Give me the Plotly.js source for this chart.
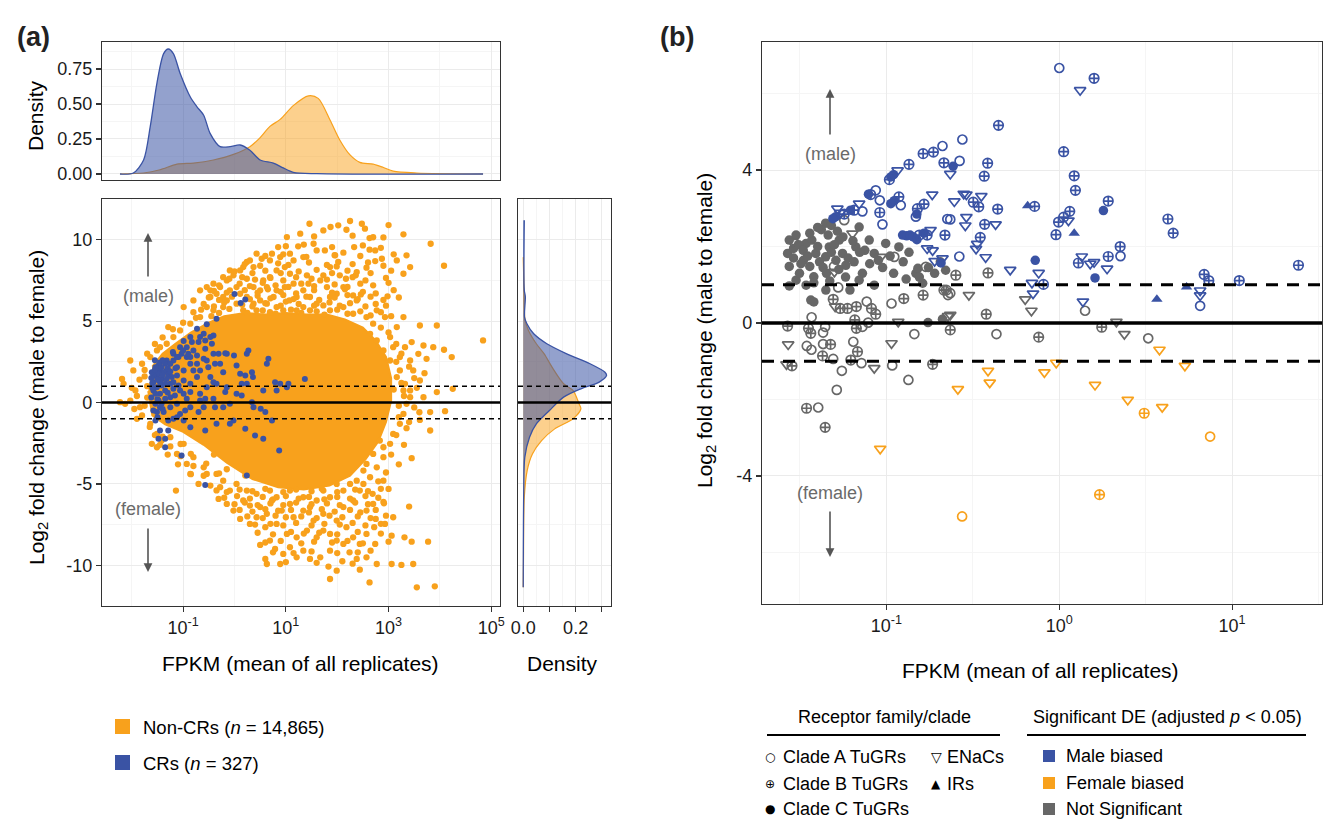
<!DOCTYPE html>
<html>
<head>
<meta charset="utf-8">
<script src="https://cdn.plot.ly/plotly-3.0.1.min.js"></script>
<style>html,body{margin:0;padding:0;background:#fff}#chart{width:1324px;height:822px}</style>
</head>
<body>
<div id="chart"></div>
<script>
// ---------------- DATA ----------------
// Panel (a): x = log10 FPKM, y = log2 fold change
const nonCRPoints = [
[1.46,10.98],[1.73,10.57],[1.87,10.78],[2.02,10.88],[2.18,10.61],[2.25,11.15],[2.48,10.98],[2.54,10.68],[3.00,10.90],[3.29,10.33],[3.82,9.75],[1.28,10.37],[1.02,10.16],[0.85,9.55],[1.08,9.14],[1.24,9.59],[1.54,9.75],[1.60,9.34],[1.76,9.34],[1.96,9.04],[2.12,9.20],[2.33,9.55],[2.63,10.10],[2.90,10.14],[2.74,9.34],[2.63,9.39],[2.87,8.83],[2.74,8.69],[2.57,8.28],[2.02,8.63],[1.99,8.36],[1.86,8.32],[1.73,7.81],[1.67,7.50],[2.05,7.81],[2.17,7.60],[2.38,8.01],[2.36,7.81],[2.46,6.64],[2.31,6.58],[2.12,7.09],[1.99,6.68],[1.86,6.48],[1.80,7.09],[1.34,8.93],[1.15,8.73],[0.98,8.32],[0.82,8.11],[0.69,7.70],[0.56,7.50],[0.43,9.14],[0.24,8.63],[0.11,8.11],[-0.02,7.81],[-0.15,7.50],[-0.28,7.09],[-0.35,6.68],[-0.47,6.48],[-0.54,5.86],[0.69,8.73],[0.73,9.14],[0.89,8.93],[1.08,7.91],[1.15,7.30],[0.98,7.09],[0.82,6.89],[0.63,7.09],[0.50,6.89],[0.37,7.09],[0.24,7.60],[1.41,7.81],[1.44,7.30],[1.34,6.89],[1.21,6.48],[1.07,6.27],[1.47,6.48],[1.60,6.07],[1.73,5.96],[1.34,5.86],[3.35,9.04],[3.42,8.32],[3.29,7.91],[3.16,8.73],[4.08,8.40],[2.98,6.52],[2.93,5.25],[3.16,4.63],[3.29,5.25],[3.61,4.73],[3.94,4.73],[4.84,3.81],[4.23,2.79],[4.08,3.24],[3.87,3.40],[3.68,3.50],[3.45,3.71],[3.32,3.40],[3.58,2.99],[3.74,2.68],[3.42,2.58],[3.22,2.79],[3.48,1.97],[3.61,1.35],[3.94,0.64],[4.25,0.84],[3.68,0.33],[3.42,0.74],[3.32,1.15],[3.16,1.56],[3.81,-0.59],[4.10,-0.53],[3.61,-1.07],[3.35,-1.58],[3.81,-1.72],[3.45,-3.42],[3.40,-6.39],[3.77,-8.55],[3.45,-8.55],[3.31,-8.28],[3.06,-8.18],[2.91,-6.19],[3.09,-7.05],[3.00,-5.31],[2.80,-4.84],[2.90,-4.80],[2.69,-5.61],[2.70,-6.23],[2.57,-6.64],[2.75,-7.15],[2.93,-7.46],[2.72,-7.66],[2.57,-8.07],[2.74,-8.69],[2.57,-9.51],[2.77,-9.92],[3.06,-9.92],[3.25,-9.98],[3.48,-9.92],[3.55,-11.35],[3.90,-11.29],[2.63,-11.05],[2.44,-10.27],[2.38,-9.61],[2.24,-9.20],[2.12,-8.69],[1.99,-8.48],[1.86,-8.07],[1.73,-7.87],[1.60,-8.28],[1.86,-9.10],[1.99,-10.33],[1.86,-10.84],[1.83,-10.08],[1.67,-9.51],[1.47,-9.61],[1.34,-9.10],[1.21,-9.51],[1.08,-8.89],[0.95,-9.30],[0.89,-9.92],[0.63,-9.92],[0.60,-9.61],[0.79,-9.00],[0.50,-8.75],[0.69,-8.48],[1.02,-8.07],[1.21,-8.28],[1.41,-7.87],[0.82,-7.46],[0.60,-7.66],[0.43,-7.05],[0.30,-7.46],[0.11,-7.15],[-0.02,-6.64],[-0.15,-6.23],[-0.31,-5.92],[-0.47,-5.10],[-0.70,-5.00],[-0.86,-4.39],[-0.93,-3.77],[-1.12,-3.16],[-1.14,-5.41],[0.30,-6.33],[0.50,-6.43],[0.73,-6.02],[0.92,-6.64],[1.15,-7.05],[1.34,-6.64],[1.54,-7.25],[1.73,-6.84],[1.99,-7.25],[2.18,-7.66],[2.31,-8.28],[2.44,-8.69],[2.12,-6.43],[2.31,-6.02],[2.44,-5.41],[2.38,-4.80],[2.51,-4.18],[2.57,-3.77],[2.70,-3.16],[2.90,-2.75],[2.83,-2.34],[3.03,-2.54],[3.09,-1.93],[3.22,-1.31],[3.29,-0.70],[3.35,-0.08],[3.42,0.33],[3.29,0.74],[3.22,1.97],[3.03,2.58],[2.90,3.20],[2.77,3.81],[2.64,4.22],[2.70,4.84],[2.57,5.25],[2.77,5.66],[3.03,4.02],[3.09,3.40],[-0.09,-5.41],[0.04,-5.00],[0.24,-5.41],[0.43,-5.61],[0.69,-5.41],[1.34,-5.82],[1.60,-6.02],[1.86,-5.82],[2.12,-5.41],[2.25,-5.00],[-0.22,-4.80],[-0.35,-4.39],[-0.60,-3.98],[-0.80,-3.36],[-0.99,-2.54],[-1.25,-2.13],[-1.51,-1.93],[-1.64,-1.31],[-1.84,-0.29],[-2.03,0.12],[-2.16,1.15],[-1.97,1.97],[-1.80,2.38],[-1.64,2.79],[-1.51,3.20],[-1.29,4.63],[-0.99,5.86],[-0.80,6.27],[-0.67,6.89],[-0.54,7.09],[-0.41,7.30],[-0.22,7.70],[-0.09,8.11],[0.17,8.32],[0.30,8.73],[0.37,8.32],[0.53,8.83],[-2.23,0.02],[-2.03,2.58],[-2.19,1.45],[-1.93,0.74],[-2.13,-0.08],[-1.90,-1.00],[-1.61,-2.54],[-1.51,-2.75],[-1.42,-2.34],[0.21,-4.49],
[-0.22,6.48],[-0.09,6.89],[0.04,7.09],[0.11,6.68],[0.24,6.48],[0.37,6.07],[0.50,6.27],[0.63,6.07],[0.76,6.48],[0.82,5.86],[0.95,5.66],[1.21,5.66],[1.47,5.66],[1.86,5.66],[2.12,5.86],[2.31,5.45],[2.38,6.27],[0.04,6.07],[-0.22,5.86],[-0.41,5.66],[-0.67,5.25],[-0.86,4.84],[-1.06,4.43],[-1.19,4.02],[-1.32,3.61],[-1.45,3.40],[-0.47,6.89],[-0.15,6.27],[0.17,5.66],[0.43,5.66],[0.69,5.55],
[-0.54,-4.39],[0.82,-5.82],[1.08,-5.41],[1.08,-6.23],[1.73,-5.41],[1.99,-5.00],[2.51,-5.00],[2.64,-4.59],[2.77,-3.98],[2.90,-3.36],[1.47,-6.43],[0.63,-6.84],[0.17,-6.02],[-0.28,-5.20]
];
// the dense halo of Non-CR genes around the saturated core
const nonCRHalo = [
[-0.8,5.55],[-0.65,5.7],[-0.3,5.5],[-0.1,5.75],[0.25,5.5],[0.55,5.65],[0.8,5.45],[1.1,5.7],[1.3,5.5],[1.6,5.6],[1.75,5.4],[2.0,5.7],[2.2,5.45],[2.45,5.6],[2.65,5.35],[2.85,5.55],[3.05,5.3],
[-0.6,6.05],[-0.4,5.9],[-0.2,6.15],[0.15,6.0],[0.35,5.9],[0.6,6.1],[0.9,5.95],[1.0,6.2],[1.25,6.05],[1.55,5.95],[1.85,6.15],[2.05,5.95],[2.25,6.1],[2.55,5.9],[2.75,6.05],[2.95,5.95],
[-0.5,6.45],[-0.3,6.3],[-0.05,6.5],[0.3,6.35],[0.45,6.55],[0.7,6.4],[0.95,6.6],[1.15,6.35],[1.4,6.5],[1.65,6.3],[1.95,6.45],[2.2,6.6],[2.4,6.35],[2.65,6.5],[2.9,6.3],[3.2,6.45],
[-0.4,6.85],[-0.15,6.75],[0.2,6.9],[0.45,6.75],[0.65,6.95],[0.9,6.8],[1.2,6.7],[1.55,6.9],[1.9,6.75],[2.15,6.95],[2.5,6.8],[2.75,6.7],[3.1,6.9],
[-0.3,7.2],[0.1,7.3],[0.3,7.15],[0.55,7.35],[0.8,7.2],[1.05,7.1],[1.3,7.3],[1.55,7.15],[1.95,7.25],[2.2,7.1],[2.45,7.3],[2.7,7.2],[3.0,7.35],
[-0.1,7.6],[0.15,7.7],[0.4,7.55],[0.7,7.65],[0.95,7.5],[1.2,7.7],[1.5,7.6],[1.8,7.55],[2.3,7.7],[2.55,7.5],[2.95,7.65],
[0.0,8.05],[0.35,7.95],[0.6,8.1],[0.9,7.95],[1.25,8.05],[1.6,8.15],[1.9,7.95],[2.2,8.1],[2.65,7.95],[3.05,8.1],
[0.2,8.5],[0.5,8.4],[0.85,8.55],[1.05,8.45],[1.45,8.6],[1.8,8.45],[2.3,8.5],[2.6,8.6],[2.9,8.4],
[0.6,9.0],[0.95,9.1],[1.4,8.95],[1.95,9.05],[2.45,9.0],[3.1,9.1],
[1.0,9.6],[1.35,9.7],[1.9,9.55],[2.5,9.65],[2.85,9.5],
[1.55,10.2],[2.3,10.25],[2.7,10.15],
[-0.35,-5.4],[-0.15,-5.5],[0.1,-5.35],[0.35,-5.45],[0.6,-5.3],[0.95,-5.5],[1.2,-5.35],[1.5,-5.45],[1.7,-5.3],[2.0,-5.5],[2.35,-5.35],[2.6,-5.45],[2.85,-5.3],
[-0.2,-5.85],[0.05,-5.75],[0.3,-5.9],[0.55,-5.8],[0.75,-5.95],[1.0,-5.75],[1.25,-5.9],[1.45,-5.8],[1.75,-5.95],[2.0,-5.8],[2.25,-5.9],[2.55,-5.75],[2.8,-5.85],
[0.0,-6.25],[0.2,-6.15],[0.45,-6.3],[0.7,-6.2],[0.95,-6.3],[1.2,-6.15],[1.5,-6.25],[1.8,-6.2],[2.05,-6.3],[2.35,-6.15],[2.6,-6.25],[2.9,-6.1],
[0.1,-6.6],[0.35,-6.7],[0.6,-6.55],[0.85,-6.65],[1.1,-6.6],[1.45,-6.75],[1.7,-6.55],[1.95,-6.7],[2.25,-6.6],[2.45,-6.75],[2.75,-6.6],
[0.25,-7.0],[0.55,-7.1],[0.8,-6.95],[1.0,-7.05],[1.3,-7.0],[1.6,-7.1],[1.85,-6.95],[2.1,-7.05],[2.4,-7.0],[2.65,-7.1],[2.95,-6.95],
[0.4,-7.5],[0.7,-7.45],[0.95,-7.55],[1.2,-7.4],[1.5,-7.55],[1.75,-7.45],[2.05,-7.5],[2.3,-7.4],[2.55,-7.55],[2.85,-7.45],
[0.45,-8.0],[0.75,-8.1],[1.1,-7.95],[1.35,-8.05],[1.65,-8.0],[2.0,-8.1],[2.4,-7.95],[2.85,-8.05],
[0.6,-8.6],[0.9,-8.5],[1.3,-8.65],[1.55,-8.55],[1.9,-8.6],[2.2,-8.5],[2.5,-8.65],[3.0,-8.55],
[0.75,-9.2],[1.15,-9.25],[1.5,-9.15],[2.0,-9.25],[2.4,-9.2],[2.65,-9.1],
[1.0,-9.8],[1.6,-9.85],[2.1,-9.75],[2.3,-9.9],
[-1.45,-2.6],[-1.25,-2.7],[-1.05,-2.55],[-1.3,-3.2],[-1.05,-3.3],[-0.85,-3.15],[-1.1,-3.8],[-0.8,-3.9],[-0.55,-3.75],[-0.85,-4.4],[-0.6,-4.5],[-0.3,-4.35],[-1.55,-2.0],[-1.4,-2.1],[-0.4,-3.2],[-0.15,-4.1],
[3.25,3.0],[3.4,2.2],[3.5,1.5],[3.3,0.4],[3.5,-0.3],[3.2,-0.9],[3.4,-1.2],[3.15,-2.0],[3.3,-2.6],[3.05,-3.2],[3.2,-3.8],[2.95,-4.3],[3.55,0.9],[3.7,1.8],[3.6,-0.6],[3.15,2.5],[3.2,-0.2],[3.1,0.8],[3.25,1.2],[3.15,3.6],[3.0,4.3],[2.85,4.6],
[-1.75,2.0],[-1.85,1.4],[-1.7,1.0],[-1.9,0.4],[-1.75,-0.2],[-1.8,-0.8],[-1.65,-1.5],[-2.0,0.9],[-1.95,-0.4],[-1.7,3.0],[-1.55,3.6],[-1.75,1.6],[-1.7,0.3],[-1.4,4.0],[-1.2,4.5],[-1.0,4.9],[-0.75,5.2],[-0.45,5.3]
];
// outline of the saturated core of the Non-CR cloud (log10 FPKM, log2FC)
const nonCRCore = [[-1.6,2.2],[-1.4,3.0],[-1.15,3.6],[-0.85,4.3],[-0.5,4.9],[-0.2,5.3],[0.2,5.5],[0.6,5.4],[1.0,5.5],[1.4,5.4],[1.8,5.4],[2.15,5.1],[2.5,4.6],[2.75,3.8],[2.95,2.8],[3.05,1.5],[3.05,0.1],[2.95,-1.2],[2.8,-2.4],[2.55,-3.5],[2.25,-4.5],[1.85,-5.1],[1.35,-5.35],[0.85,-5.2],[0.35,-4.7],[-0.15,-3.7],[-0.6,-2.6],[-1.0,-1.8],[-1.35,-1.35],[-1.6,-0.8],[-1.68,0.7]];
const crPoints = [
[0.00,6.66],[0.12,6.11],[0.21,6.33],[-0.35,5.14],[-0.54,4.80],[-0.73,4.53],[-0.86,4.02],[-0.99,3.77],[-1.06,3.40],[-1.19,2.99],[-1.32,2.58],[-1.45,1.97],[-1.54,1.86],[-1.51,1.56],[-1.42,1.45],[-1.29,1.66],[-1.12,2.17],[-0.93,2.79],[-0.80,3.20],[-0.67,4.02],[-0.60,4.22],[-0.41,4.12],[-0.44,3.61],[-0.57,3.30],[-0.73,2.89],[-0.86,2.38],[-0.99,1.97],[-1.12,1.66],[-1.25,1.15],[-1.35,0.74],[-1.45,0.53],[-1.42,-0.08],[-1.54,-0.08],[-1.51,-0.59],[-1.38,-0.59],[-1.25,-0.29],[-1.12,-0.08],[-0.99,0.53],[-0.86,1.15],[-0.73,1.56],[-0.67,1.97],[-0.54,2.58],[-0.41,2.99],[-0.31,2.99],[-0.18,3.03],[-0.15,2.99],[0.04,2.27],[-0.01,2.89],[0.24,2.99],[0.27,3.20],[0.11,1.76],[0.21,1.66],[0.34,1.86],[0.36,1.56],[0.14,1.15],[0.24,1.15],[0.04,0.53],[-0.18,0.64],[-0.15,0.94],[-0.35,1.15],[-0.41,1.25],[-0.54,0.94],[-0.67,0.53],[-0.86,0.64],[-0.93,0.23],[-1.06,0.74],[-1.16,0.43],[-1.25,0.33],[-1.29,-1.11],[-1.19,-1.00],[-1.06,-0.70],[-0.96,-0.49],[-0.86,-0.29],[-0.67,0.12],[-0.57,0.23],[-0.41,0.23],[-0.38,-0.29],[-0.22,-0.29],[-0.09,-0.08],[0.14,0.43],[0.34,0.02],[0.37,-0.29],[0.51,-0.39],[0.60,-0.59],[0.73,-1.11],[0.56,0.74],[0.63,2.38],[0.66,2.68],[0.79,1.25],[0.89,1.15],[1.05,1.15],[1.37,1.45],[0.82,0.74],[1.02,0.94],[-0.02,-1.11],[-0.09,-1.31],[-0.35,-1.31],[-0.57,-1.72],[-0.86,-1.52],[-0.99,-1.11],[-1.12,-0.90],[-1.29,-1.72],[-1.35,-2.23],[-1.48,-2.23],[-1.45,-1.72],[-1.54,-1.11],[-1.35,-2.75],[-1.03,-3.26],[-0.57,-5.06],[0.24,-4.49],[0.21,-1.62],[0.40,-2.03],[0.56,-2.23],[0.87,-2.95],[-0.70,-0.59],[-0.60,-0.29],[-1.58,0.74],[-1.51,0.94],[-1.42,1.05],[-1.58,1.25],[-1.48,2.27],[-1.35,2.38],[-1.19,2.58],[-1.09,2.79],[-1.03,2.99],[-0.93,3.40],[-0.83,3.71],[-0.70,3.71],[-0.57,3.81],[-0.47,4.02],[-0.86,2.79],[-0.80,1.97],[-0.73,2.38],[-0.60,2.68],[-0.51,2.17],[-0.38,2.38],[-0.47,1.56],[-0.22,1.86],[-0.28,2.38],[-1.12,2.79],[-1.25,2.38],[-1.32,1.97],[-1.22,1.56],
[-1.54,2.17],[-1.48,1.76],[-1.38,1.86],[-1.58,1.66],[-1.45,1.25],[-1.32,1.45],[-1.61,1.86],[-1.42,2.17],[-1.35,1.15],[-1.19,1.25],[-1.54,0.53],[-1.48,0.12],[-1.35,0.23],[-1.58,-0.49],[-1.45,-0.29],[-1.19,0.84],[-1.09,1.05],[-0.99,1.35],
[-1.5,1.4],[-1.4,1.7],[-1.3,2.1],[-1.55,2.0],[-1.45,2.45],[-1.6,1.2],[-1.6,0.9],[-1.5,0.2],[-1.4,-0.4],[-1.3,0.6],[-1.25,1.9],[-1.15,2.1],[-1.4,2.6],[-1.2,3.1],[-1.0,3.2],[-0.9,3.0],[-1.5,-0.9],[-1.62,0.3],[-1.62,1.5],[-1.55,2.6]
];
// marginal densities: [log10 FPKM, density]
const densTopNonCR = [[-2.23,0],[-1.77,0.007],[-1.45,0.03],[-1.12,0.07],[-0.80,0.078],[-0.41,0.10],[-0.02,0.14],[0.30,0.195],[0.50,0.26],[0.69,0.34],[0.89,0.39],[1.15,0.49],[1.44,0.558],[1.63,0.54],[1.86,0.386],[2.05,0.243],[2.25,0.136],[2.44,0.083],[2.70,0.07],[2.90,0.046],[3.09,0.02],[3.55,0.007],[4.84,0]];
const densTopCR = [[-2.23,0],[-1.97,0.007],[-1.77,0.10],[-1.64,0.34],[-1.51,0.65],[-1.38,0.86],[-1.29,0.893],[-1.19,0.86],[-1.06,0.72],[-0.86,0.55],[-0.73,0.48],[-0.60,0.42],[-0.475,0.29],[-0.28,0.195],[-0.086,0.195],[0.11,0.207],[0.30,0.17],[0.50,0.10],[0.757,0.078],[0.95,0.043],[1.146,0.012],[1.60,0.002],[4.84,0]];
// [log2FC, density]
const densRightNonCR = [[8.93,0],[6.89,0.003],[5.04,0.007],[4.43,0.02],[3.61,0.05],[2.99,0.08],[2.17,0.11],[1.15,0.154],[0.74,0.19],[-0.08,0.213],[-0.39,0.22],[-1.0,0.19],[-1.62,0.12],[-2.34,0.07],[-3.16,0.035],[-4.18,0.015],[-5.82,0.004],[-9.5,0.001],[-11.35,0]];
const densRightCR = [[11.19,0.004],[6.89,0.004],[6.5,0.008],[5.25,0.005],[4.84,0.014],[4.22,0.04],[3.61,0.09],[2.99,0.166],[2.38,0.255],[1.86,0.312],[1.66,0.318],[1.25,0.29],[0.84,0.22],[0.33,0.154],[-0.49,0.10],[-1.31,0.05],[-2.13,0.024],[-3.36,0.006],[-5.4,0.002],[-11.35,0]];

// Panel (b): [FPKM, log2FC, family]  A/B/C = Clade A/B/C TuGRs, E = ENaCs, I = IRs
const maleBiased = [
[1.00,6.67,'A'],[1.59,6.40,'B'],[1.32,6.09,'E'],[0.445,5.17,'B'],[0.275,4.80,'A'],[0.265,4.24,'A'],[0.243,4.10,'C'],[0.385,4.18,'B'],[0.368,3.84,'B'],[0.234,3.90,'E'],[1.06,4.48,'B'],[1.22,3.85,'B'],[1.24,3.47,'B'],[1.92,3.19,'B'],[1.80,2.94,'C'],[1.15,2.92,'B'],[1.06,2.77,'B'],[0.99,2.64,'B'],[1.13,2.68,'E'],[0.957,2.31,'B'],[1.22,2.35,'I'],[0.656,3.07,'I'],[0.72,3.05,'B'],[0.44,2.98,'B'],[0.318,3.16,'B'],[0.342,3.04,'B'],[0.354,3.32,'E'],[0.28,3.38,'E'],[0.29,3.36,'E'],[0.247,3.18,'E'],[0.29,2.77,'E'],[0.286,2.55,'E'],[0.37,2.58,'B'],[0.428,2.58,'E'],[0.234,2.71,'A'],[0.349,2.24,'B'],[0.335,2.07,'E'],[0.33,1.94,'E'],[0.264,1.74,'A'],[0.375,1.72,'E'],[0.52,1.39,'E'],[0.726,1.64,'C'],[0.76,1.31,'E'],[0.695,1.05,'E'],[0.81,1.01,'B'],[0.705,0.77,'E'],[1.35,1.74,'E'],[1.29,1.57,'B'],[1.51,1.55,'E'],[1.59,1.59,'E'],[1.61,1.18,'C'],[1.92,1.74,'B'],[2.26,1.75,'A'],[2.25,2.00,'B'],[1.89,1.42,'E'],[4.25,2.72,'B'],[4.56,2.35,'B'],[3.67,0.62,'I'],[5.45,0.94,'I'],[6.89,1.27,'B'],[7.33,1.11,'B'],[6.53,0.85,'E'],[6.53,0.72,'E'],[11.0,1.11,'B'],[24.2,1.51,'B'],[1.37,0.56,'E'],[6.53,0.45,'A'],
[0.211,4.63,'A'],[0.187,4.47,'B'],[0.163,4.43,'B'],[0.135,4.15,'B'],[0.215,4.19,'B'],[0.116,3.99,'E'],[0.106,3.82,'C'],[0.104,3.75,'B'],[0.110,3.88,'C'],[0.184,3.36,'E'],[0.118,3.30,'B'],[0.106,3.12,'C'],[0.111,3.20,'C'],[0.121,3.08,'A'],[0.0867,3.47,'A'],[0.0787,3.37,'C'],[0.081,3.36,'B'],[0.0915,3.21,'A'],[0.0915,2.89,'B'],[0.0948,2.58,'A'],[0.151,2.99,'B'],[0.165,3.11,'B'],[0.148,2.78,'A'],[0.150,2.85,'C'],[0.225,2.72,'A'],[0.218,2.30,'B'],[0.124,2.30,'C'],[0.131,2.28,'C'],[0.137,2.30,'C'],[0.143,2.25,'C'],[0.155,2.30,'B'],[0.150,2.18,'C'],[0.165,2.35,'C'],[0.172,2.30,'B'],[0.18,2.43,'E'],[0.172,1.95,'E'],[0.185,1.90,'E'],[0.211,1.69,'E'],[0.207,1.57,'C'],[0.19,1.62,'E'],[0.0726,2.92,'A'],[0.065,2.95,'B'],[0.0695,3.12,'E'],[0.062,2.95,'C'],[0.052,2.99,'E'],[0.054,2.88,'E'],[0.051,2.78,'C'],[0.049,2.73,'C'],[0.057,2.85,'B']
];
const femaleBiased = [
[0.259,-1.73,'E'],[0.387,-1.25,'E'],[0.396,-1.56,'E'],[0.82,-1.29,'E'],[0.96,-1.04,'E'],[1.61,-1.62,'E'],[2.49,-2.01,'E'],[3.10,-2.36,'B'],[3.94,-2.20,'E'],[3.80,-0.70,'E'],[5.33,-1.12,'E'],[7.46,-2.97,'A'],[1.71,-4.49,'B'],[0.274,-5.06,'A'],[0.092,-3.29,'E']
];
const notSignificant = [
[0.0445,2.61,'C'],[0.042,2.44,'C'],[0.0274,2.17,'C'],[0.0268,1.82,'C'],[0.0274,1.48,'C'],[0.030,1.12,'C'],[0.0343,2.08,'C'],[0.037,2.17,'C'],[0.039,1.82,'C'],[0.0467,1.99,'C'],[0.0533,2.17,'C'],[0.0557,1.82,'C'],[0.0331,1.64,'C'],[0.036,1.48,'C'],[0.0445,1.73,'C'],[0.051,1.64,'C'],[0.0314,1.30,'C'],[0.038,1.21,'C'],[0.0343,0.99,'C'],[0.0665,1.99,'C'],[0.0795,2.17,'C'],[0.0898,1.64,'C'],[0.0695,2.51,'C'],[0.099,2.08,'C'],[0.118,1.99,'C'],[0.085,1.82,'C'],[0.0582,1.51,'C'],[0.0726,1.30,'C'],[0.0695,1.12,'C'],[0.148,1.30,'C'],[0.152,1.43,'C'],[0.22,1.38,'C'],[0.205,1.60,'C'],[0.0365,0.60,'C'],[0.038,0.55,'C'],[0.0274,0.97,'C'],[0.0446,0.86,'C'],[0.0615,0.86,'C'],[0.085,0.99,'C'],[0.162,1.04,'C'],[0.174,0.01,'C'],[0.211,0.10,'C'],
[0.029,1.95,'C'],[0.031,2.05,'C'],[0.033,1.90,'C'],[0.035,1.75,'C'],[0.040,2.00,'C'],[0.041,1.60,'C'],[0.043,1.45,'C'],[0.046,2.30,'C'],[0.048,1.85,'C'],[0.050,2.05,'C'],[0.053,1.40,'C'],[0.056,2.25,'C'],[0.060,1.70,'C'],[0.064,2.15,'C'],[0.075,1.90,'C'],[0.080,1.55,'C'],[0.032,1.55,'C'],[0.029,1.70,'C'],[0.045,1.30,'C'],[0.038,1.05,'C'],[0.047,1.10,'C'],[0.058,1.20,'C'],[0.065,1.60,'C'],[0.070,1.85,'C'],[0.036,2.35,'C'],[0.040,2.50,'C'],[0.048,2.55,'C'],[0.052,2.40,'C'],[0.030,2.30,'C'],[0.095,1.45,'C'],[0.105,1.75,'C'],[0.125,1.60,'C'],[0.135,1.85,'C'],[0.130,1.15,'C'],[0.110,1.30,'C'],[0.155,1.20,'C'],[0.175,1.45,'C'],[0.190,1.30,'C'],
[0.111,1.73,'A'],[0.169,1.47,'A'],[0.0636,2.34,'E'],[0.0286,2.12,'E'],[0.050,1.34,'E'],[0.0927,1.73,'E'],[0.057,2.69,'A'],[0.252,1.25,'B'],[0.215,0.86,'B'],[0.0497,1.48,'A'],[0.387,1.31,'B'],
[0.0516,-1.75,'A'],[0.0345,-2.23,'B'],[0.0403,-2.21,'A'],[0.0442,-2.73,'B'],[0.134,-1.49,'A'],[0.108,-1.11,'A'],[0.185,-1.08,'B'],[0.085,-1.18,'E'],[0.0717,-1.05,'A'],[0.0552,-1.25,'A'],[0.0492,-0.94,'A'],[0.0622,-0.97,'B'],[0.0264,-1.08,'E'],[0.0284,-1.12,'B'],[0.0427,-0.86,'B'],[0.027,-0.56,'E'],[0.0346,-0.60,'A'],[0.0368,-0.70,'A'],[0.043,-0.55,'A'],[0.0475,-0.56,'B'],[0.0643,-0.49,'A'],[0.068,-0.75,'B'],[0.107,-0.53,'E'],[0.145,-0.29,'A'],[0.234,-0.18,'B'],[0.227,0.18,'E'],[0.117,0.03,'E'],[0.0268,-0.08,'B'],[0.0354,-0.14,'B'],[0.0365,-0.27,'B'],[0.0369,0.15,'A'],[0.043,-0.25,'A'],[0.0442,-0.10,'A'],[0.0656,0.08,'B'],[0.067,-0.14,'B'],[0.0726,-0.10,'A'],[0.0784,0.01,'A'],[0.0769,0.56,'A'],[0.0819,0.38,'B'],[0.0867,0.23,'B'],[0.067,0.43,'B'],[0.107,0.51,'A'],[0.126,0.64,'B'],[0.227,0.73,'A'],[0.222,0.86,'B'],[0.0492,0.62,'B'],[0.0526,0.93,'A'],[0.0505,0.43,'E'],[0.054,0.38,'B'],[0.0595,0.38,'B'],[0.163,0.73,'B'],[0.234,0.78,'A'],[0.30,0.73,'E'],[0.234,0.21,'E'],[0.378,0.23,'B'],[0.433,-0.29,'A'],[0.635,0.62,'E'],[0.69,0.32,'E'],[0.76,-0.37,'B'],[1.41,0.32,'A'],[1.76,-0.11,'B'],[2.14,0.03,'E'],[2.38,-0.29,'E'],[3.27,-0.40,'A']
];

const tickLabelsA = ['10<sup>-1</sup>','10<sup>1</sup>','10<sup>3</sup>','10<sup>5</sup>'];
const tickLabelsB = ['10<sup>-1</sup>','10<sup>0</sup>','10<sup>1</sup>'];
const legendA = ['Non-CRs (<i>n</i> = 14,865)','CRs (<i>n</i> = 327)'];
const familyLabels = {A:'Clade A TuGRs',B:'Clade B TuGRs',C:'Clade C TuGRs',E:'ENaCs',I:'IRs'};
const sigLabels = ['Male biased','Female biased','Not Significant'];

// ---------------- STYLE ----------------
const W=1324, H=822;
const FX = v => v/W, FY = v => 1 - v/H;
const FONT = 'Liberation Sans, Arial, Helvetica, sans-serif';
const ORANGE = '#F8A11C', BLUE = '#3A53A4', GREY = '#676767';
const GMAJ = '#EBEBEB', GMIN = '#F5F5F5';
const tickfont = {family:FONT, size:18, color:'#1a1a1a'};

function ax(o){
  return Object.assign({
    showgrid:true, gridcolor:GMAJ, gridwidth:1, zeroline:false,
    showline:true, mirror:true, linecolor:'#333', linewidth:1.2,
    ticks:'outside', ticklen:5, tickwidth:1.2, tickcolor:'#333',
    tickfont:tickfont, tickmode:'array', fixedrange:true
  }, o);
}

const traces = [];
traces.push({x:densTopNonCR.map(p=>p[0]), y:densTopNonCR.map(p=>p[1]), type:'scatter', mode:'lines',
  line:{color:ORANGE,width:1.2,shape:'spline',smoothing:0.8}, fill:'tozeroy', fillcolor:'rgba(249,161,27,0.5)', xaxis:'x', yaxis:'y', hoverinfo:'skip'});
traces.push({x:densTopCR.map(p=>p[0]), y:densTopCR.map(p=>p[1]), type:'scatter', mode:'lines',
  line:{color:BLUE,width:1.3,shape:'spline',smoothing:0.8}, fill:'tozeroy', fillcolor:'rgba(58,83,164,0.55)', xaxis:'x', yaxis:'y', hoverinfo:'skip'});
traces.push({x:nonCRCore.map(p=>p[0]), y:nonCRCore.map(p=>p[1]), type:'scatter', mode:'lines', fill:'toself',
  fillcolor:ORANGE, line:{color:ORANGE,width:2}, xaxis:'x2', yaxis:'y2', hoverinfo:'skip'});
const allNonCR = nonCRPoints.concat(nonCRHalo);
traces.push({x:allNonCR.map(p=>p[0]), y:allNonCR.map(p=>p[1]), type:'scatter', mode:'markers',
  marker:{color:ORANGE,size:6.3}, xaxis:'x2', yaxis:'y2'});
traces.push({x:crPoints.map(p=>p[0]), y:crPoints.map(p=>p[1]), type:'scatter', mode:'markers',
  marker:{color:BLUE,size:6}, xaxis:'x2', yaxis:'y2'});
traces.push({y:densRightNonCR.map(p=>p[0]), x:densRightNonCR.map(p=>p[1]), type:'scatter', mode:'lines',
  line:{color:ORANGE,width:1.2,shape:'spline',smoothing:0.8}, fill:'tozerox', fillcolor:'rgba(249,161,27,0.5)', xaxis:'x3', yaxis:'y3', hoverinfo:'skip'});
traces.push({y:densRightCR.map(p=>p[0]), x:densRightCR.map(p=>p[1]), type:'scatter', mode:'lines',
  line:{color:BLUE,width:1.3,shape:'spline',smoothing:0.8}, fill:'tozerox', fillcolor:'rgba(58,83,164,0.55)', xaxis:'x3', yaxis:'y3', hoverinfo:'skip'});

const symbolOf = {A:'circle-open',B:'circle-cross-open',C:'circle',E:'triangle-down-open',I:'triangle-up'};
const sizeOf = {A:9,B:9.5,C:9.5,E:10,I:10};
[[notSignificant,GREY],[maleBiased,BLUE],[femaleBiased,ORANGE]].forEach(([grp,col])=>{
  ['C','A','B','E','I'].forEach(f=>{
    const pts = grp.filter(p=>p[2]===f);
    if(!pts.length) return;
    traces.push({x:pts.map(p=>p[0]), y:pts.map(p=>p[1]), type:'scatter', mode:'markers', name:familyLabels[f],
      marker:{symbol:symbolOf[f], size:sizeOf[f], color:col, line:{color:col,width:(f==='C'||f==='I')?0:1.7}},
      xaxis:'x4', yaxis:'y4'});
  });
});

const dA = [FX(102),FX(500)], dR=[FX(518),FX(611)], dB=[FX(762),FX(1322)];
const yTop=[FY(180),FY(42)], yMain=[FY(606),FY(199)], yB=[FY(604),FY(42)];

const shapes = [];
function hline(xr,yr,y,w,dash){ shapes.push({type:'line',xref:xr,yref:yr,x0:0,x1:1,y0:y,y1:y,line:{color:'#000',width:w,dash:dash},layer:'above'}); }
hline('x2 domain','y2',0,2.4,'solid'); hline('x2 domain','y2',1,1.5,'5px,4px'); hline('x2 domain','y2',-1,1.5,'5px,4px');
hline('x3 domain','y3',0,2.4,'solid'); hline('x3 domain','y3',1,1.5,'5px,4px'); hline('x3 domain','y3',-1,1.5,'5px,4px');
hline('x4 domain','y4',0,3.5,'solid'); hline('x4 domain','y4',1,3,'12px,9px'); hline('x4 domain','y4',-1,3,'12px,9px');
function sq(x0,y0,s,col){ shapes.push({type:'rect',xref:'paper',yref:'paper',x0:FX(x0),x1:FX(x0+s),y0:FY(y0+s),y1:FY(y0),fillcolor:col,line:{width:0}}); }
sq(115,719,15,ORANGE); sq(115,755,15,BLUE);
sq(1043,750,12,BLUE); sq(1043,777,12,ORANGE); sq(1043,803,12,GREY);
shapes.push({type:'line',xref:'paper',yref:'paper',x0:FX(767),x1:FX(1000),y0:FY(735),y1:FY(735),line:{color:'#000',width:2}});
shapes.push({type:'line',xref:'paper',yref:'paper',x0:FX(1027),x1:FX(1306),y0:FY(735),y1:FY(735),line:{color:'#000',width:2}});

const ann = [];
function txt(t,x,y,o){ ann.push(Object.assign({text:t,x:FX(x),y:FY(y),xref:'paper',yref:'paper',showarrow:false,
  xanchor:'center',yanchor:'middle',font:{family:FONT,size:21,color:'#000'}},o||{})); }
txt('<b>(a)</b>',33,37,{font:{family:FONT,size:27,color:'#222'}});
txt('<b>(b)</b>',677,37,{font:{family:FONT,size:27,color:'#222'}});
txt('Density',35,116,{textangle:-90});
txt('Log<sub>2</sub> fold change (male to female)',38,408,{textangle:-90});
txt('FPKM (mean of all replicates)',300,663);
txt('Density',562,663);
txt('Log<sub>2</sub> fold change (male to female)',706,330,{textangle:-90});
txt('FPKM (mean of all replicates)',1040,670);
const grey = {family:FONT,size:18,color:'#6a6a6a'};
txt('(male)',148,296,{font:grey}); txt('(female)',148,509,{font:grey});
txt('(male)',830,154,{font:grey}); txt('(female)',830,493,{font:grey});
function arrow(x,yHead,yTail){ ann.push({x:FX(x),y:FY(yHead),xref:'paper',yref:'paper',ax:0,ay:yTail-yHead,text:'',showarrow:true,
  arrowhead:2,arrowsize:1.1,arrowwidth:1.6,arrowcolor:'#555',standoff:0,startstandoff:0}); }
arrow(148,233,278); arrow(148,572,527); arrow(830,89,136); arrow(830,557,510);
const lf = {family:FONT,size:18.5,color:'#000'};
const lf2 = {family:FONT,size:18,color:'#000'};
txt(legendA[0],141,727,{xanchor:'left',font:lf});
txt(legendA[1],141,763,{xanchor:'left',font:lf});
txt('Receptor family/clade',884,717,{font:lf2});
txt('Significant DE (adjusted <i>p</i> &lt; 0.05)',1167,717,{font:lf2});
const gf = {family:'DejaVu Sans, sans-serif',size:12,color:'#000'};
txt('○',770,757,{font:gf}); txt(familyLabels.A,781,757,{xanchor:'left',font:lf2});
txt('⊕',770,784,{font:gf}); txt(familyLabels.B,781,784,{xanchor:'left',font:lf2});
txt('●',770,809,{font:gf}); txt(familyLabels.C,781,809,{xanchor:'left',font:lf2});
txt('▽',936,757,{font:{family:'DejaVu Sans, sans-serif',size:14,color:'#000'}}); txt(familyLabels.E,945,757,{xanchor:'left',font:lf2});
txt('▲',936,784,{font:gf}); txt(familyLabels.I,945,784,{xanchor:'left',font:lf2});
txt(sigLabels[0],1064,756,{xanchor:'left',font:lf2});
txt(sigLabels[1],1064,783,{xanchor:'left',font:lf2});
txt(sigLabels[2],1064,809,{xanchor:'left',font:lf2});

const layout = {
  width:W, height:H, margin:{l:0,r:0,t:0,b:0}, paper_bgcolor:'#fff', plot_bgcolor:'#fff', showlegend:false,
  font:{family:FONT},
  xaxis: ax({domain:dA, range:[-2.58,5.17], anchor:'y', tickvals:[-1,1,3,5], showticklabels:false, ticks:'',
    minor:{tickmode:'array',tickvals:[-2,0,2,4],showgrid:true,gridcolor:GMIN,ticks:''}}),
  yaxis: ax({domain:yTop, range:[-0.043,0.943], anchor:'x', tickvals:[0,0.25,0.5,0.75], ticktext:['0.00','0.25','0.50','0.75'],
    minor:{tickmode:'array',tickvals:[0.125,0.375,0.625,0.875],showgrid:true,gridcolor:GMIN,ticks:''}}),
  xaxis2: ax({domain:dA, range:[-2.58,5.17], anchor:'y2', tickvals:[-1,1,3,5], ticktext:tickLabelsA,
    minor:{tickmode:'array',tickvals:[-2,0,2,4],showgrid:true,gridcolor:GMIN,ticks:''}}),
  yaxis2: ax({domain:yMain, range:[-12.5,12.5], anchor:'x2', tickvals:[-10,-5,0,5,10], ticktext:['-10','-5','0','5','10'],
    minor:{tickmode:'array',tickvals:[-7.5,-2.5,2.5,7.5],showgrid:true,gridcolor:GMIN,ticks:''}}),
  xaxis3: ax({domain:dR, range:[-0.02,0.335], anchor:'y3', tickvals:[0,0.1,0.2,0.3], ticktext:['0.0',' ','0.2',' '],
    minor:{tickmode:'array',tickvals:[0.05,0.15,0.25],showgrid:true,gridcolor:GMIN,ticks:''}}),
  yaxis3: ax({domain:yMain, range:[-12.5,12.5], anchor:'x3', tickvals:[-10,-5,0,5,10], showticklabels:false, ticks:'',
    minor:{tickmode:'array',tickvals:[-7.5,-2.5,2.5,7.5],showgrid:true,gridcolor:GMIN,ticks:''}}),
  xaxis4: ax({type:'log', domain:dB, range:[-1.72,1.52], anchor:'y4', tickvals:[0.1,1,10], ticktext:tickLabelsB,
    minor:{tickmode:'array',tickvals:[0.0316,0.316,3.16,31.6],showgrid:true,gridcolor:GMIN,ticks:''}}),
  yaxis4: ax({domain:yB, range:[-7.35,7.35], anchor:'x4', tickvals:[-4,0,4], ticktext:['-4','0','4'],
    minor:{tickmode:'array',tickvals:[-6,-2,2,6],showgrid:true,gridcolor:GMIN,ticks:''}}),
  shapes:shapes, annotations:ann
};
Plotly.newPlot('chart', traces, layout, {displayModeBar:false, staticPlot:true});
</script>
</body>
</html>
